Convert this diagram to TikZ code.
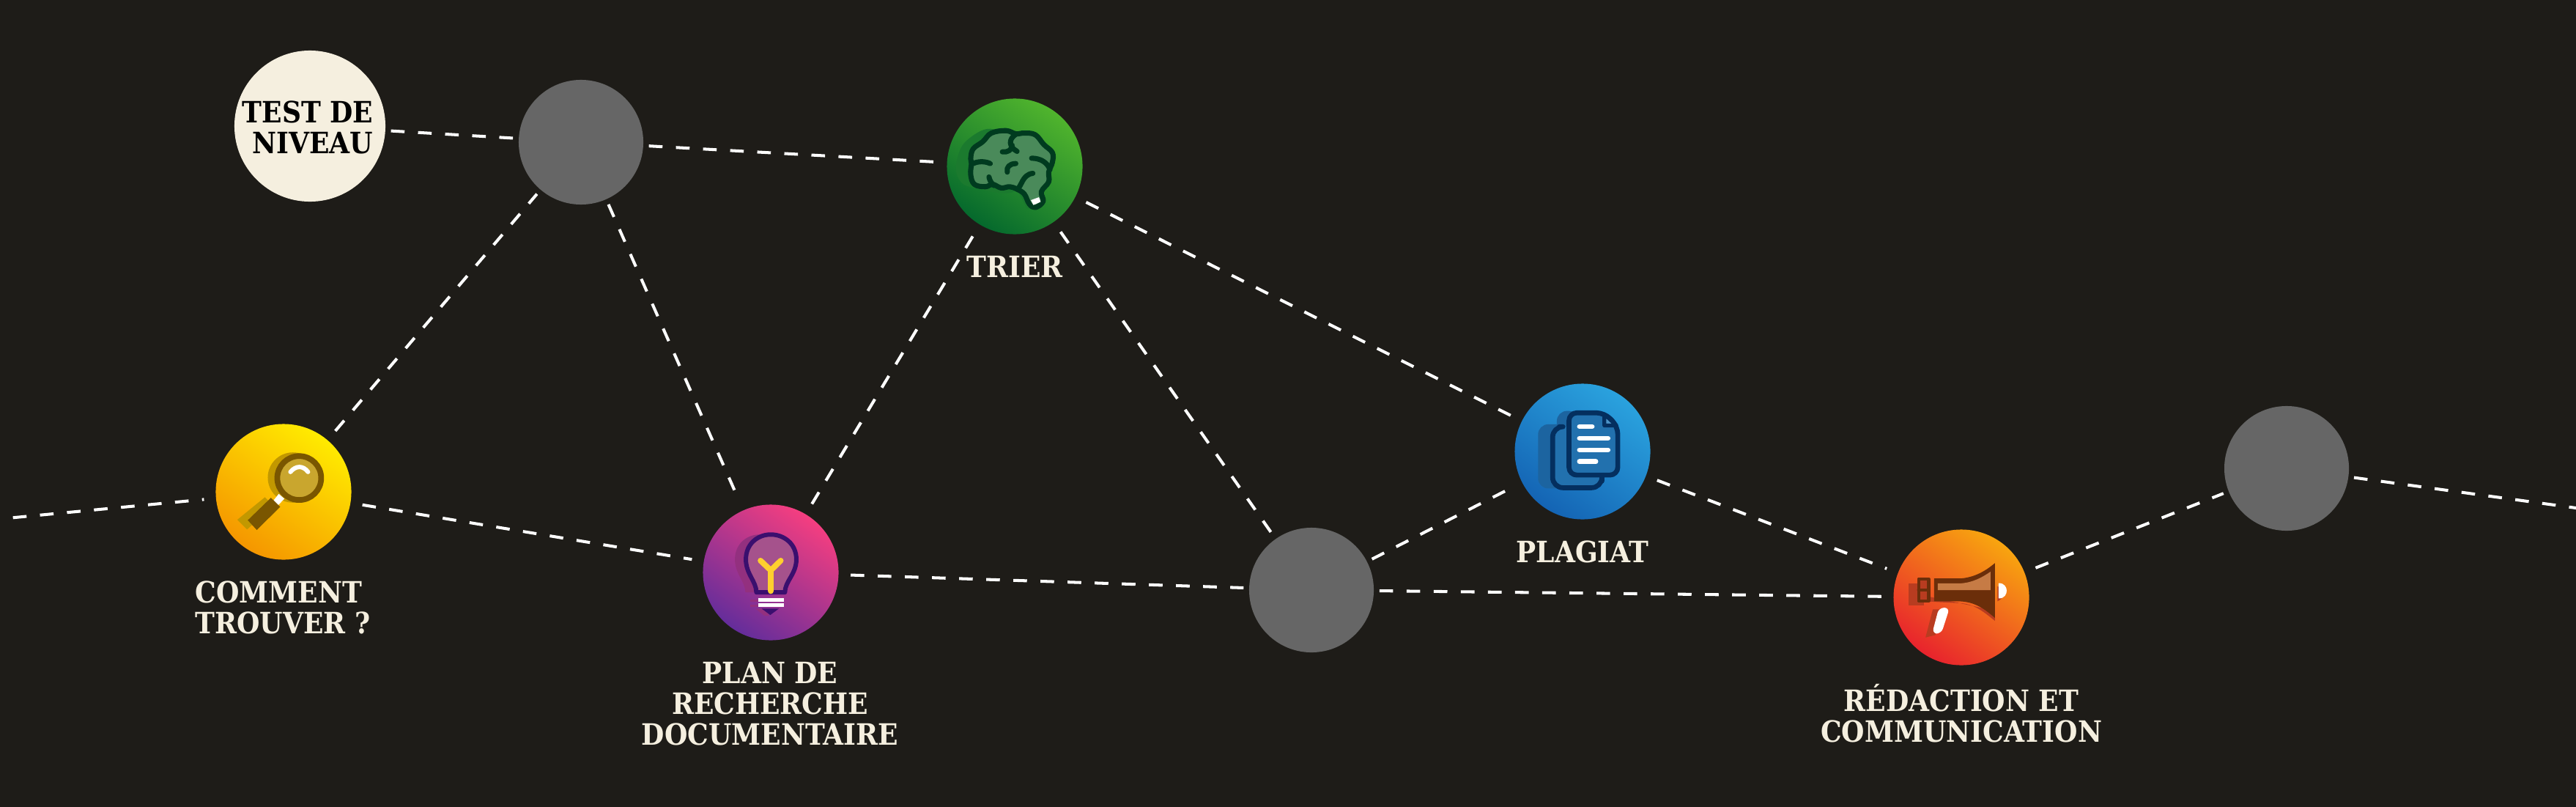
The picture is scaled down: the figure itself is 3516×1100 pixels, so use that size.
\documentclass[tikz,border=0pt]{standalone}
\usepackage{fontspec}
\newfontfamily\slabfont[BoldFont=*]{DejaVu Serif Condensed Bold}
\definecolor{ground}{HTML}{1E1C18}
\definecolor{cream}{HTML}{F5EFDF}
\definecolor{slate}{HTML}{666666}
\definecolor{goldink}{HTML}{7A5600}
\definecolor{goldlens}{HTML}{C9A62E}
\definecolor{goldshade}{HTML}{C29800}
\definecolor{leafink}{HTML}{003B1F}
\definecolor{leaffill}{HTML}{4A8A5A}
\definecolor{leafshade}{HTML}{1B7A2E}
\definecolor{roseink}{HTML}{3A0F6E}
\definecolor{rosefill}{HTML}{A5528C}
\definecolor{roseshade}{HTML}{93307F}
\definecolor{rosewire}{HTML}{FFD02E}
\definecolor{skyink}{HTML}{042F5F}
\definecolor{skyfill}{HTML}{2271AE}
\definecolor{skyfold}{HTML}{4D94C8}
\definecolor{skyshade}{HTML}{1C64A0}
\definecolor{fireink}{HTML}{6B2E0A}
\definecolor{firefill}{HTML}{C67B45}
\definecolor{fireshade}{HTML}{B83C20}

\begin{document}
\begin{tikzpicture}[x = 0.01cm, y = -0.01cm]
\tikzstyle{VertexStyle}=[shape = circle,
                         minimum size = 1.85cm,
                         inner sep = 0pt,
                         outer sep = 2.5pt]
\tikzstyle{BlankStyle}=[VertexStyle, minimum size = 1.7cm, outer sep = 0pt, fill = slate]
\tikzstyle{TestStyle}=[VertexStyle, minimum size = 2.06cm, outer sep = 0pt, fill = cream]
\tikzstyle{GoldStyle}=[VertexStyle, bottom color = {rgb,255:red,245;green,150;blue,0}, top color = {rgb,255:red,255;green,235;blue,0}, shading angle = -35]
\tikzstyle{LeafStyle}=[VertexStyle, bottom color = {rgb,255:red,5;green,105;blue,45}, top color = {rgb,255:red,80;green,180;blue,45}, shading angle = -35]
\tikzstyle{RoseStyle}=[VertexStyle, bottom color = {rgb,255:red,100;green,45;blue,155}, top color = {rgb,255:red,245;green,62;blue,128}, shading angle = -35]
\tikzstyle{SkyStyle}=[VertexStyle, bottom color = {rgb,255:red,20;green,100;blue,180}, top color = {rgb,255:red,42;green,162;blue,222}, shading angle = -35]
\tikzstyle{FireStyle}=[VertexStyle, bottom color = {rgb,255:red,232;green,35;blue,45}, top color = {rgb,255:red,248;green,165;blue,15}, shading angle = -35]
\tikzstyle{LabelStyle}=[font = \slabfont\bfseries\fontsize{11.4}{11.95}\selectfont, text = cream, inner sep = 0pt]
\tikzstyle{LinkStyle}=[draw = white, line width = 1.15pt, dash pattern = on 5.3pt off 5.23pt, shorten > = 2.2pt, shorten < = 2.2pt]
\tikzstyle{IconStyle}=[x = 0.003333cm, y = -0.003333cm, line join = round, line cap = round]
\useasboundingbox (0,0) rectangle (3516,1100);
\fill[ground] (-10,-10) rectangle (3526,1110);
\node[TestStyle] (v0) at (423,172) {};
\node[BlankStyle] (v1) at (793,194) {};
\node[LeafStyle] (v2) at (1385,227) {};
\node[GoldStyle] (v3) at (387,671) {};
\node[RoseStyle] (v4) at (1052,781) {};
\node[BlankStyle] (v5) at (1790,805) {};
\node[SkyStyle] (v6) at (2160,616) {};
\node[FireStyle] (v7) at (2677,815) {};
\node[BlankStyle] (v8) at (3121,639) {};
\coordinate (in) at (10,707);
\coordinate (out) at (3545,697);
\node[LabelStyle, text = black, align = right] (t0) at (420,174) {TEST DE\\NIVEAU};
\node[LabelStyle] (t2) at (1385,364) {TRIER};
\node[LabelStyle, align = left] (t3) at (386,829) {COMMENT\\TROUVER ?};
\node[LabelStyle, align = center] (t4) at (1051,960) {PLAN DE\\RECHERCHE\\DOCUMENTAIRE};
\node[LabelStyle] (t6) at (2160,753) {PLAGIAT};
\node[LabelStyle, align = center] (t7) at (2677,973) {RÉDACTION ET\\COMMUNICATION};
\draw[LinkStyle] (in) -- (v3);
\draw[LinkStyle] (v3) -- (v1);
\draw[LinkStyle] (v3) -- (v4);
\draw[LinkStyle] (v0) -- (v1);
\draw[LinkStyle] (v1) -- (v2);
\draw[LinkStyle] (v1) -- (v4);
\draw[LinkStyle] (v4) -- (v2);
\draw[LinkStyle] (v2) -- (v5);
\draw[LinkStyle] (v2) -- (v6);
\draw[LinkStyle] (v4) -- (v5);
\draw[LinkStyle] (v5) -- (v6);
\draw[LinkStyle] (v5) -- (v7);
\draw[LinkStyle] (v6) -- (v7);
\draw[LinkStyle] (v7) -- (v8);
\draw[LinkStyle] (v8) -- (out);
% magnifier
\begin{scope}[shift = {(250,550)}, IconStyle]
\fill[goldshade] (450,305) circle (103);
\fill[goldshade] (222,478) -- (335,386) -- (370,420) -- (262,518) -- cycle;
\fill[white] (368,402) -- (392,372) -- (415,392) -- (390,418) -- cycle;
\fill[goldink] (360,388) -- (398,425) -- (302,520) -- (265,480) -- cycle;
\fill[goldlens] (476,307) circle (90);
\draw[goldink, line width = 2.2pt] (476,307) circle (90);
\draw[white, line width = 1.7pt] (440,282) .. controls (462,255) and (492,255) .. (512,282);
\end{scope}
% brain
\begin{scope}[shift = {(1250,110)}, IconStyle]
\fill[leafshade] plot[smooth cycle, tension = 0.7] coordinates {(170,320) (215,240) (320,200) (400,300) (410,450) (240,440) (175,400)};
\fill[leafshade] (425,465) -- (445,450) -- (475,525) -- (455,525) -- cycle;
\fill[leaffill, draw = leafink, line width = 2pt] plot[smooth cycle, tension = 0.65] coordinates {(225,320) (235,280) (275,250) (310,215) (370,205) (410,218) (445,215) (490,222) (525,262) (560,295) (560,335) (545,375) (545,415) (515,455) (522,495) (490,520) (465,505) (445,465) (415,445) (385,435) (350,440) (315,425) (285,435) (240,425) (225,385) (228,340)};
\fill[white] (472,490) -- (505,478) -- (512,497) -- (482,510) -- cycle;
\draw[leafink, line width = 2pt] (410,220) .. controls (380,240) and (380,270) .. (415,290);
\draw[leafink, line width = 2pt] (355,292) .. controls (375,295) and (395,285) .. (395,265);
\draw[leafink, line width = 2pt] (235,340) .. controls (255,330) and (285,330) .. (305,340);
\draw[leafink, line width = 2pt] (300,395) .. controls (303,410) and (310,420) .. (320,430);
\draw[leafink, line width = 2pt] (375,375) .. controls (370,355) and (385,340) .. (410,340);
\draw[leafink, line width = 2pt] (415,445) .. controls (435,435) and (435,385) .. (480,380);
\draw[leafink, line width = 2pt] (475,318) .. controls (510,318) and (540,335) .. (550,365);
\end{scope}
% bulb
\begin{scope}[shift = {(850,670)}, IconStyle]
\fill[roseshade] (503,415) .. controls (503,370) and (460,340) .. (460,280) .. controls (460,215) and (510,178) .. (562,178) -- (620,178) -- (620,415) -- cycle;
\fill[roseshade] (522,445) rectangle (570,455);
\fill[roseshade] (522,465) rectangle (570,475);
\fill[roseshade] (545,482) -- (590,482) -- (600,512) -- (580,510) -- cycle;
\filldraw[fill = rosefill, draw = roseink, line width = 1.7pt] (548,415) .. controls (548,370) and (505,340) .. (505,280) .. controls (505,215) and (555,178) .. (607,178) .. controls (660,178) and (712,215) .. (712,280) .. controls (712,340) and (665,370) .. (665,415) -- cycle;
\draw[rosewire, line width = 2.2pt] (607,410) -- (607,325) (565,285) -- (607,325) -- (648,285);
\draw[white, line width = 1.4pt, line cap = butt] (555,447) -- (660,447) (555,467) -- (660,467);
\fill[roseink] (570,482) -- (640,482) -- (605,508) -- cycle;
\end{scope}
% documents
\begin{scope}[shift = {(2040,510)}, IconStyle]
\fill[skyshade, rounded corners = 4pt] (178,207) rectangle (380,470);
\fill[skyshade, rounded corners = 4pt] (255,152) rectangle (345,300);
\fill[skyfill, rounded corners = 4pt] (238,217) rectangle (440,467);
\draw[skyink, line width = 1.9pt, rounded corners = 4pt] (265,217) -- (238,217) -- (238,467) -- (440,467) -- (440,440);
\filldraw[fill = skyfill, draw = skyink, line width = 1.9pt, rounded corners = 3pt] (305,160) -- (450,160) -- (505,215) -- (505,415) -- (305,415) -- cycle;
\filldraw[fill = skyfold, draw = skyink, line width = 1.5pt] (450,165) -- (450,212) -- (500,212) -- cycle;
\draw[white, line width = 1.9pt] (348,216) -- (400,216) (348,264) -- (465,264) (348,312) -- (465,312) (348,360) -- (415,360);
\end{scope}
% megaphone
\begin{scope}[shift = {(2470,700)}, IconStyle]
\fill[fireshade] (405,288) rectangle (470,380);
\fill[fireshade] (478,362) -- (625,370) .. controls (680,375) and (720,410) .. (760,442) -- (760,400) -- (478,340) -- cycle;
\fill[fireshade] (505,395) -- (550,395) -- (515,500) -- (475,510) -- cycle;
\fill[fireshade] (770,300) .. controls (800,310) and (805,345) .. (770,362) -- cycle;
\fill[white, rounded corners = 2pt] (530,388) -- (574,388) -- (540,494) -- (502,494) -- cycle;
\fill[white] (775,287) .. controls (800,287) and (808,305) .. (808,318) .. controls (808,332) and (800,350) .. (775,350) -- cycle;
\fill[fireink] (510,268) -- (620,268) .. controls (690,262) and (735,225) .. (760,205) -- (760,430) .. controls (720,395) and (680,365) .. (620,362) -- (510,362) -- cycle;
\fill[firefill] (525,288) -- (620,288) .. controls (670,285) and (710,262) .. (742,240) -- (742,316) -- (525,316) -- cycle;
\draw[fireink, line width = 1.3pt, fill = fireshade] (447,270) rectangle (488,360);
\draw[fireink, line width = 1.3pt] (447,315) -- (488,315);
\end{scope}
\end{tikzpicture}
\end{document}
